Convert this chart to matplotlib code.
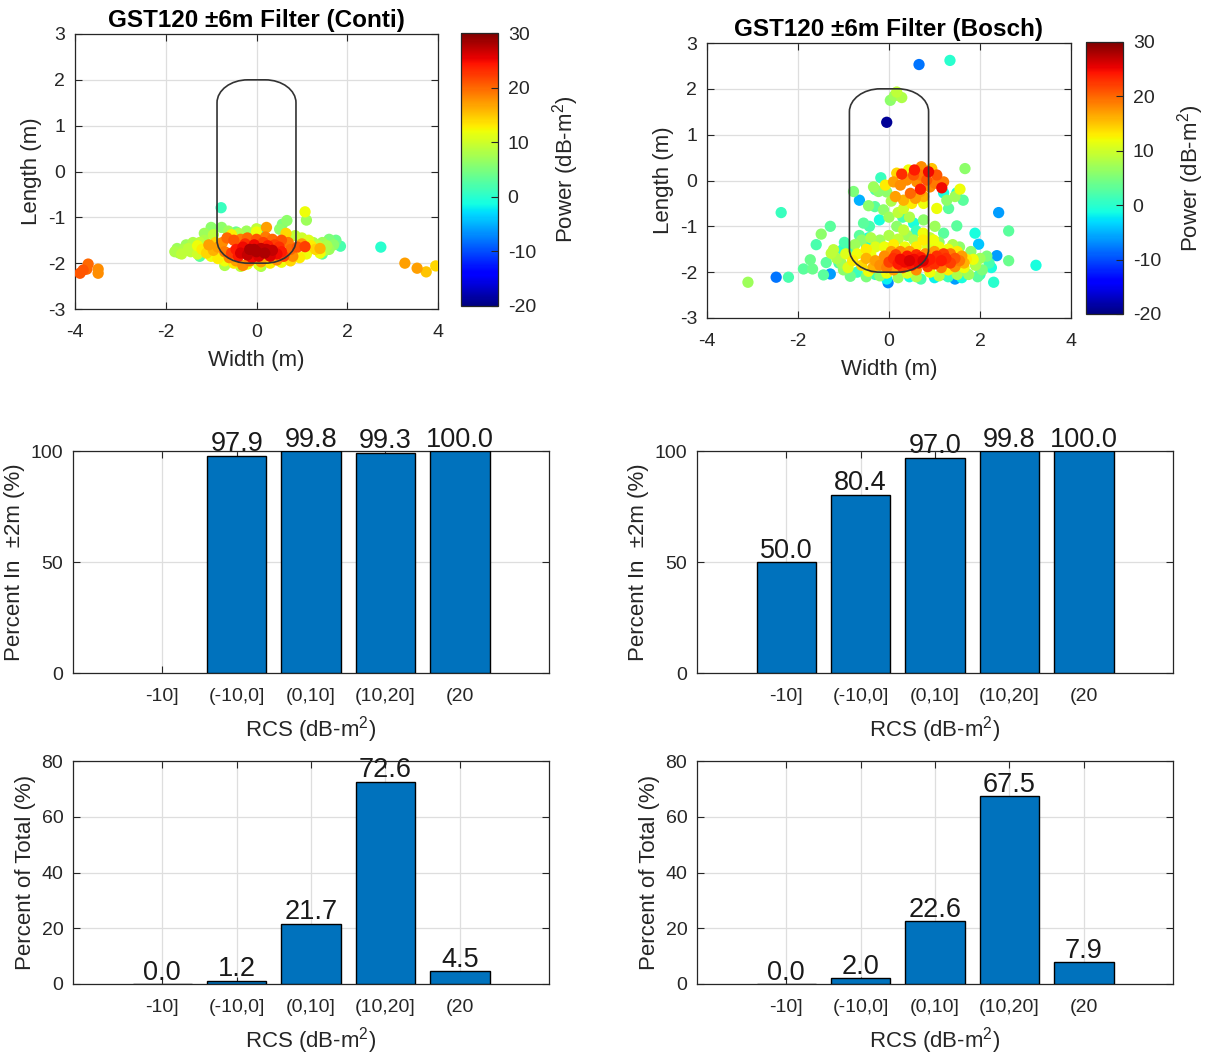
import numpy as np
import matplotlib
matplotlib.use('Agg')
import matplotlib.pyplot as plt
from matplotlib.path import Path
from matplotlib.patches import PathPatch

plt.rcParams['font.family'] = ['Liberation Sans', 'DejaVu Sans']
plt.rcParams['mathtext.fontset'] = 'custom'
plt.rcParams['mathtext.rm'] = 'Liberation Sans'
plt.rcParams['mathtext.it'] = 'Liberation Sans:italic'
plt.rcParams['mathtext.bf'] = 'Liberation Sans:bold'
plt.rcParams['axes.unicode_minus'] = False

# ---------------- data ----------------
categories = ['-10]', '(-10,0]', '(0,10]', '(10,20]', '(20']
conti_pct_in = [np.nan, 97.9, 99.8, 99.3, 100.0]
bosch_pct_in = [50.0, 80.4, 97.0, 99.8, 100.0]
conti_pct_total = [0.0, 1.2, 21.7, 72.6, 4.5]
bosch_pct_total = [0.0, 2.0, 22.6, 67.5, 7.9]

conti_width = [
    -0.45, -0.35, -0.30, -0.20, -0.15, -0.05, 0.00, 0.05, 0.10, 0.18,
    0.25, 0.30, 0.35, 0.45, 0.50, -0.25, 0.15, -0.40, 0.55, -0.10,
    0.40, -0.55, 0.60, -0.05, 0.22, -0.75, -0.70, -0.65, -0.60, -0.50,
    -0.35, -0.20, 0.00, 0.20, 0.35, 0.55, 0.70, 0.75, 0.80, 0.90,
    1.00, -0.85, -0.95, -1.05, 0.22, -0.30, 0.45, -0.15, 0.10, 1.07,
    -0.45, 1.40, -1.20, -1.10, -1.00, -0.90, -0.85, -0.70, -0.50, -0.20,
    0.05, 0.30, 0.55, 0.75, 0.95, 1.10, 1.20, 1.30, 1.40, 0.65,
    -0.55, -1.30, 1.15, 0.00, -1.80, -1.75, -1.65, -1.60, -1.55, -1.45,
    -1.40, -1.30, -1.25, -1.15, -1.50, -1.70, 1.25, 1.35, 1.45, 1.55,
    1.60, 1.70, 1.50, -0.70, 0.10, -0.35, 1.10, 1.07, 0.67, 0.57,
    -1.00, -0.77, -0.62, -0.22, 0.00, 0.51, -1.15, -0.40, 0.85, 1.00,
    -0.95, 1.85, 1.75, 1.45, -1.25, 0.07, -0.78, 2.74, 1.60, -0.45,
    -3.89, -3.82, -3.71, -3.74, -3.49, -3.49, 3.27, 3.54, 3.74, 3.95]
conti_length = [
    -1.70, -1.78, -1.65, -1.82, -1.70, -1.60, -1.75, -1.85, -1.68, -1.78,
    -1.62, -1.85, -1.72, -1.80, -1.65, -1.58, -1.55, -1.85, -1.75, -1.88,
    -1.60, -1.78, -1.85, -1.70, -1.70, -1.55, -1.75, -1.45, -1.88, -1.50,
    -1.48, -1.45, -1.48, -1.43, -1.48, -1.50, -1.55, -1.70, -1.85, -1.65,
    -1.58, -1.65, -1.72, -1.60, -1.22, -2.05, -1.93, -1.95, -1.97, -1.64,
    -1.95, -1.68, -1.70, -1.78, -1.85, -1.55, -1.90, -1.95, -2.00, -2.02,
    -2.03, -2.00, -1.98, -1.95, -1.88, -1.80, -1.62, -1.70, -1.78, -1.35,
    -1.38, -1.62, -1.50, -1.32, -1.75, -1.68, -1.80, -1.70, -1.60, -1.75,
    -1.55, -1.80, -1.55, -1.50, -1.68, -1.78, -1.55, -1.62, -1.55, -1.62,
    -1.70, -1.60, -1.72, -2.05, -2.07, -2.07, -1.06, -0.88, -1.07, -1.15,
    -1.22, -1.22, -1.30, -1.30, -1.25, -1.26, -1.35, -1.35, -1.40, -1.45,
    -1.38, -1.63, -1.50, -1.80, -1.85, -1.28, -0.79, -1.65, -1.48, -1.32,
    -2.22, -2.15, -2.02, -2.13, -2.13, -2.22, -2.00, -2.11, -2.19, -2.06]
conti_power = [
    24, 26, 25, 27, 28, 25, 28, 26, 27, 28,
    24, 26, 27, 25, 23, 23, 22, 24, 24, 25,
    22, 22, 22, 28, 27, 18, 19, 20, 18, 21,
    19, 20, 21, 19, 20, 21, 19, 20, 18, 21,
    17, 17, 16, 17, 17, 18, 18, 19, 17, 22,
    17, 16, 13, 14, 12, 14, 13, 12, 13, 12,
    11, 13, 12, 14, 13, 12, 13, 14, 12, 14,
    13, 12, 11, 12, 8, 7, 9, 8, 7, 9,
    8, 10, 9, 8, 9, 7, 8, 9, 7, 8,
    7, 6, 8, 8, 8, 9, 7, 12, 6, 5,
    6, 6, 7, 7, 9, 6, 7, 8, 9, 10,
    9, 2, 4, 3, 3, 0, 1, 0, 5, 4,
    21, 21, 20, 20, 18, 18, 17, 17, 15, 14]

bosch_width = [
    0.66, 1.34, 0.03, 0.17, 0.28, 0.12, -0.05, 1.67, -2.37, 2.41,
    2.63, 1.89, 1.97, 2.37, 2.63, 3.23, 2.30, -3.10, -2.48, -2.21,
    0.28, 0.56, 0.43, 0.71, 0.87, 1.05, 1.20, 1.16, 0.69, 0.10,
    0.25, 0.39, 0.61, 0.47, 0.58, 0.32, 0.14, 0.76, 0.90, 0.83,
    1.01, 0.69, 0.54, -0.08, 0.17, 0.94, 0.76, 0.32, 0.50, 0.69,
    1.05, 1.56, -0.78, -0.34, -0.23, -0.05, 0.05, 1.27, 1.45, -0.12,
    0.00, 0.20, 0.45, -0.45, 0.17, 0.32, 0.76, 1.01, -1.49, -1.29,
    -0.31, -0.56, -0.43, -0.21, 0.54, 0.30, 0.60, 1.49, 1.31, 1.63,
    1.49, 1.20, -0.18, -0.30, 1.20, -0.65, -0.45, -0.65, 0.75, 0.98,
    0.00, 0.10, 0.20, 0.25, 0.35, 0.40, 0.50, 0.55, 0.65, 0.70,
    0.80, 0.90, 1.00, 1.05, 1.15, 1.25, 1.35, 1.45, 0.30, 0.60,
    0.15, 0.85, 1.20, 0.45, 0.75, -0.30, -0.20, -0.10, -0.05, 0.05,
    0.25, 0.45, 0.80, 1.00, 1.35, 1.55, 1.60, 1.45, 1.15, 0.60,
    0.10, -0.35, 1.65, -0.50, -0.80, -0.70, -0.60, -0.50, -0.40, -0.30,
    -0.10, 0.10, 0.35, 0.60, 0.85, 1.10, 1.30, 1.50, 1.70, 1.65,
    1.30, 0.90, 0.40, -0.05, -0.45, -0.90, 0.75, -0.95, 1.85, -1.27,
    -1.22, -1.15, -1.05, -1.00, -0.85, -0.75, -0.60, -0.40, -0.20, 0.00,
    0.20, 0.40, 0.55, 0.90, 1.10, 1.40, 1.55, 1.80, 1.90, 2.00,
    2.15, 2.05, 1.75, 1.50, 1.10, 0.60, 0.20, -0.20, -0.50, -1.73,
    -1.68, -1.88, -1.02, -0.98, -0.85, 1.30, 1.60, 2.00, 2.20, 2.25,
    1.95, -0.30, -0.05, 0.45, 0.70, 1.00, -0.70, -1.38, -1.44, -0.50,
    0.90, -1.29, -0.02, 1.45, 0.95, 0.10, 1.20, -0.35, -1.60, -1.10]
bosch_length = [
    2.53, 2.62, 1.75, 1.93, 1.81, 1.85, 1.27, 0.26, -0.70, -0.70,
    -1.10, -1.15, -1.39, -1.64, -1.75, -1.85, -2.22, -2.22, -2.11, -2.11,
    0.14, 0.23, 0.23, 0.30, 0.19, 0.12, -0.03, -0.16, -0.19, -0.03,
    -0.10, 0.01, -0.03, -0.28, -0.39, -0.43, -0.35, -0.35, -0.14, 0.01,
    -0.06, 0.12, 0.12, -0.10, 0.16, 0.26, -0.50, -0.61, -0.50, -0.24,
    -0.61, -0.19, -0.24, -0.14, -0.24, -0.25, -0.45, -0.43, -0.35, -0.64,
    -0.80, -0.70, -0.80, -0.55, -1.00, -1.08, -0.86, -1.00, -1.17, -1.00,
    -0.57, -0.93, -1.00, -0.86, -0.93, -0.80, -1.10, -0.99, -0.61, -0.43,
    -0.27, -0.27, 0.06, -0.20, -1.15, -0.43, -1.25, -1.20, -1.15, -1.30,
    -1.78, -1.70, -1.82, -1.72, -1.78, -1.65, -1.85, -1.72, -1.80, -1.68,
    -1.78, -1.72, -1.82, -1.65, -1.75, -1.70, -1.80, -1.70, -1.90, -1.62,
    -1.62, -1.88, -1.60, -1.75, -1.75, -1.75, -1.85, -1.65, -1.90, -1.55,
    -1.55, -1.55, -1.60, -1.55, -1.60, -1.75, -1.65, -1.88, -1.90, -1.95,
    -1.95, -1.90, -1.80, -1.70, -1.75, -1.60, -1.85, -1.50, -1.62, -1.45,
    -1.45, -1.40, -1.45, -1.45, -1.45, -1.45, -1.50, -1.55, -1.72, -1.90,
    -1.95, -2.00, -2.02, -2.02, -1.98, -1.90, -1.30, -1.60, -1.72, -1.59,
    -1.51, -1.70, -1.80, -1.95, -2.09, -1.40, -1.30, -1.25, -1.30, -1.20,
    -1.28, -1.20, -1.30, -1.25, -1.35, -1.40, -1.45, -1.55, -1.85, -1.70,
    -1.65, -1.95, -2.05, -2.05, -2.08, -2.10, -2.12, -2.08, -2.10, -1.73,
    -1.93, -1.93, -1.51, -1.35, -1.50, -2.10, -2.12, -2.05, -1.80, -1.90,
    -2.10, -2.05, -2.15, -2.10, -2.15, -2.12, -2.00, -1.79, -2.06, -1.42,
    -1.50, -2.04, -2.23, -2.15, -1.55, -1.45, -2.05, -1.35, -1.40, -1.80]
bosch_power = [
    -8, 0, 6, 9, 8, 7, -19, 6, 1, -6,
    3, -1, -4, -6, 4, -1, 0, 7, -8, 2,
    23, 24, 12, 18, 25, 21, 19, 25, 24, 17,
    18, 18, 18, 20, 17, 16, 17, 16, 18, 21,
    19, 19, 21, 13, 14, 15, 12, 10, 13, 17,
    12, 12, 5, 7, 6, 6, 8, 6, 7, 6,
    7, 9, 8, 6, 6, 9, 6, 7, 6, 3,
    3, 3, 2, -1, -1, 2, 1, 3, 3, 3,
    -1, -1, 1, 2, 3, -5, -1, 3, 12, 12,
    22, 23, 24, 25, 25, 24, 24, 25, 25, 24,
    24, 24, 23, 23, 24, 23, 22, 21, 22, 23,
    22, 22, 22, 26, 26, 17, 18, 18, 19, 17,
    18, 17, 18, 17, 19, 19, 17, 18, 19, 18,
    17, 16, 16, 16, 13, 12, 14, 13, 12, 11,
    12, 13, 12, 13, 11, 12, 12, 13, 13, 12,
    13, 12, 11, 12, 12, 11, 13, 11, 12, 9,
    9, 8, 7, 6, 4, 7, 6, 8, 7, 8,
    9, 7, 8, 9, 6, 8, 6, 6, 8, 7,
    5, 5, 7, 8, 9, 8, 7, 6, 5, 4,
    4, 3, 0, 2, 1, 1, -1, 1, 2, -1,
    3, 1, -2, -1, 2, -2, 1, 3, 3, -1,
    0, -6, -7, -6, -5, -6, -4, -6, 2, 2]

# ---------------- style ----------------
AX_COL = '#262626'
GRID_COL = '#dedede'
BAR_COL = '#0072BD'
TICK_FS = 14
LABEL_FS = 16
VAL_FS = 19.5
TITLE_FS = 17.5

fig = plt.figure(figsize=(12.17, 10.55), dpi=100)
W, H = 1217.0, 1055.0


def add_ax(l, t, r, b):
    return fig.add_axes([l / W, 1 - b / H, (r - l) / W, (b - t) / H])


def style(ax):
    for s in ax.spines.values():
        s.set_color(AX_COL)
        s.set_linewidth(0.9)
    ax.tick_params(direction='in', length=5, width=0.8, colors=AX_COL,
                   labelsize=TICK_FS, top=True, right=True)
    ax.tick_params(axis='x', pad=11)
    ax.tick_params(axis='y', pad=7)
    ax.grid(True, color=GRID_COL, linewidth=0.9)
    ax.set_axisbelow(True)


def rounded_box(ax, hw, hl, rx, ry):
    k = 0.5523
    verts = [
        (-hw + rx, hl), (hw - rx, hl),
        (hw - rx + k * rx, hl), (hw, hl - ry + k * ry), (hw, hl - ry),
        (hw, -hl + ry),
        (hw, -hl + ry - k * ry), (hw - rx + k * rx, -hl), (hw - rx, -hl),
        (-hw + rx, -hl),
        (-hw + rx - k * rx, -hl), (-hw, -hl + ry - k * ry), (-hw, -hl + ry),
        (-hw, hl - ry),
        (-hw, hl - ry + k * ry), (-hw + rx - k * rx, hl), (-hw + rx, hl),
        (-hw + rx, hl)]
    codes = [Path.MOVETO, Path.LINETO,
             Path.CURVE4, Path.CURVE4, Path.CURVE4,
             Path.LINETO,
             Path.CURVE4, Path.CURVE4, Path.CURVE4,
             Path.LINETO,
             Path.CURVE4, Path.CURVE4, Path.CURVE4,
             Path.LINETO,
             Path.CURVE4, Path.CURVE4, Path.CURVE4,
             Path.CLOSEPOLY]
    ax.add_patch(PathPatch(Path(verts, codes), facecolor='none',
                           edgecolor='#333333', linewidth=1.2, zorder=5))


def scatter_panel(ax, cax, xs, ys, ps, title):
    xs, ys, ps = np.asarray(xs), np.asarray(ys), np.asarray(ps)
    order = np.argsort(ps, kind='stable')
    sc = ax.scatter(xs[order], ys[order], c=ps[order], cmap='jet',
                    vmin=-20, vmax=30, s=66, linewidths=0, zorder=3)
    rounded_box(ax, 0.87, 2.0, 0.68, 0.5)
    ax.set_xlim(-4, 4)
    ax.set_ylim(-3, 3)
    ax.set_xticks([-4, -2, 0, 2, 4])
    ax.set_yticks([-3, -2, -1, 0, 1, 2, 3])
    style(ax)
    ax.set_xlabel('Width (m)', fontsize=LABEL_FS, color=AX_COL, labelpad=6)
    ax.set_ylabel('Length (m)', fontsize=LABEL_FS, color=AX_COL)
    ax.set_title(title, fontsize=TITLE_FS, fontweight='bold', color='black', pad=5)
    cb = fig.colorbar(sc, cax=cax, ticks=[-20, -10, 0, 10, 20, 30])
    cb.outline.set_edgecolor(AX_COL)
    cb.outline.set_linewidth(0.9)
    cax.tick_params(direction='in', length=5, colors=AX_COL, labelsize=TICK_FS, pad=7)
    cb.set_label('Power (dB-m$^{2}$)', fontsize=LABEL_FS, color=AX_COL, labelpad=10)


def bar_panel(ax, vals, ylim, yticks, ylabel):
    xpos = np.arange(1, len(categories) + 1)
    for xi, v in zip(xpos, vals):
        if np.isnan(v):
            continue
        ax.bar(xi, v, width=0.8, color=BAR_COL, edgecolor='black',
               linewidth=1.0, zorder=3)
        ax.annotate(f'{v:.1f}', (xi, v), xytext=(0, 3), textcoords='offset points',
                    ha='center', va='baseline', fontsize=VAL_FS, color='#1a1a1a',
                    annotation_clip=False, zorder=6)
    ax.set_xlim(-0.2, 6.2)
    ax.set_ylim(*ylim)
    ax.set_yticks(yticks)
    ax.set_xticks(xpos)
    ax.set_xticklabels(categories)
    style(ax)
    ax.set_xlabel('RCS (dB-m$^{2}$)', fontsize=LABEL_FS, color=AX_COL, labelpad=6)
    ax.set_ylabel(ylabel, fontsize=LABEL_FS, color=AX_COL)


ax1 = add_ax(75, 34, 438, 309)
cax1 = add_ax(461, 33, 498, 306)
scatter_panel(ax1, cax1, conti_width, conti_length, conti_power,
              'GST120 ±6m Filter (Conti)')

ax2 = add_ax(707, 43, 1071, 318)
cax2 = add_ax(1086, 42, 1123, 314)
scatter_panel(ax2, cax2, bosch_width, bosch_length, bosch_power,
              'GST120 ±6m Filter (Bosch)')

ax3 = add_ax(73, 451, 549, 673)
bar_panel(ax3, conti_pct_in, (0, 100), [0, 50, 100], 'Percent In  ±2m (%)')
ax4 = add_ax(697, 451, 1173, 673)
bar_panel(ax4, bosch_pct_in, (0, 100), [0, 50, 100], 'Percent In  ±2m (%)')

ax5 = add_ax(73, 761, 549, 984)
bar_panel(ax5, conti_pct_total, (0, 80), [0, 20, 40, 60, 80], 'Percent of Total (%)')
ax6 = add_ax(697, 761, 1173, 984)
bar_panel(ax6, bosch_pct_total, (0, 80), [0, 20, 40, 60, 80], 'Percent of Total (%)')

fig.savefig('out.png', dpi=100, facecolor='white')
